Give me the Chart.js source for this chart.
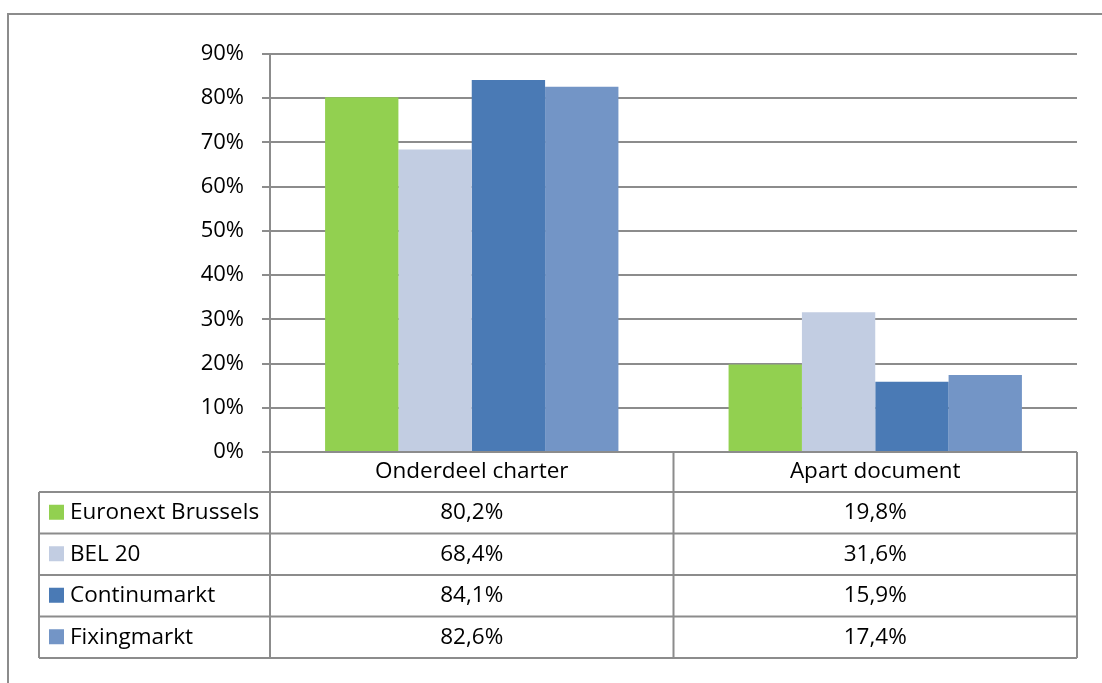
<!DOCTYPE html>
<html>
<head>
<meta charset="utf-8">
<script src="https://cdn.jsdelivr.net/npm/chart.js@4"></script>
<style>
  html, body { margin: 0; padding: 0; background: #fff; }
  #wrap { width: 1102px; height: 683px; position: relative; }
</style>
</head>
<body>
<div id="wrap"><canvas id="myChart" width="1102" height="683"></canvas></div>
<script>
const categories = ['Onderdeel charter', 'Apart document'];
const seriesNames = ['Euronext Brussels', 'BEL 20', 'Continumarkt', 'Fixingmarkt'];
const euronext = [80.2, 19.8];
const bel20 = [68.4, 31.6];
const continu = [84.1, 15.9];
const fixing = [82.6, 17.4];
const seriesColors = ['#92D050', '#C2CDE2', '#4A7AB5', '#7395C6'];
const yTicks = [0, 10, 20, 30, 40, 50, 60, 70, 80, 90];

const FONT = '"Open Sans", sans-serif';
const GREY = '#8c8c8c';

const fmt = v => v.toFixed(1).replace('.', ',') + '%';

// draws the frame and the data table under the plot
const tablePlugin = {
    id: 'dataTable',
    afterDraw(chart) {
        const c = chart.ctx;
        const area = chart.chartArea;
        const x = chart.scales.x;
        const rowH = 41.5;
        const left = 39;
        const mid = (x.getPixelForValue(0) + x.getPixelForValue(1)) / 2;
        const top = area.bottom;
        const headBottom = top + 40;
        const bottom = headBottom + rowH * 4;

        c.save();
        c.strokeStyle = GREY;
        c.lineWidth = 2;
        // outer frame
        c.beginPath();
        c.moveTo(8, 683);
        c.lineTo(8, 14);
        c.lineTo(1102, 14);
        c.stroke();

        c.beginPath();
        // header row
        c.moveTo(area.left, top);
        c.lineTo(area.right, top);
        c.moveTo(area.left, top);
        c.lineTo(area.left, bottom);
        c.moveTo(mid, top);
        c.lineTo(mid, bottom);
        c.moveTo(area.right, top);
        c.lineTo(area.right, bottom);
        c.moveTo(left, headBottom);
        c.lineTo(left, bottom);
        for (let i = 0; i <= 4; i++) {
            const yy = headBottom + rowH * i;
            c.moveTo(left, yy);
            c.lineTo(area.right, yy);
        }
        c.stroke();

        c.fillStyle = '#000';
        c.font = '22.5px ' + FONT;
        c.textBaseline = 'middle';
        c.textAlign = 'center';
        categories.forEach((cat, i) => {
            c.fillText(cat, i === 0 ? (area.left + mid) / 2 : (mid + area.right) / 2, top + 20);
        });

        chart.data.datasets.forEach((ds, r) => {
            const cy = headBottom + rowH * r + rowH / 2;
            c.fillStyle = ds.backgroundColor;
            c.fillRect(49, cy - 8, 15, 15);
            c.fillStyle = '#000';
            c.textAlign = 'left';
            c.fillText(ds.label, 70, cy);
            c.textAlign = 'center';
            c.fillText(fmt(ds.data[0]), (area.left + mid) / 2, cy);
            c.fillText(fmt(ds.data[1]), (mid + area.right) / 2, cy);
        });
        c.restore();
    }
};

const ctx = document.getElementById('myChart').getContext('2d');

const myChart = new Chart(ctx, {
    type: 'bar',
    data: {
        labels: categories,
        datasets: [
            { label: seriesNames[0], data: euronext, backgroundColor: seriesColors[0] },
            { label: seriesNames[1], data: bel20, backgroundColor: seriesColors[1] },
            { label: seriesNames[2], data: continu, backgroundColor: seriesColors[2] },
            { label: seriesNames[3], data: fixing, backgroundColor: seriesColors[3] },
        ]
    },
    options: {
        responsive: false,
        animation: false,
        layout: {
            padding: { left: 0, top: 54, right: 25, bottom: 231 }
        },
        datasets: {
            bar: { categoryPercentage: 0.727, barPercentage: 1 }
        },
        plugins: {
            legend: { display: false },
            tooltip: { enabled: false }
        },
        scales: {
            x: {
                display: false
            },
            y: {
                min: 0,
                max: 90,
                afterFit: s => { s.width = 270; },
                afterBuildTicks: s => { s.ticks = yTicks.map(v => ({ value: v })); },
                border: { color: GREY, width: 2 },
                grid: { color: GREY, lineWidth: 2, tickLength: 8 },
                ticks: {
                    padding: 18,
                    color: '#000',
                    font: { family: FONT, size: 22 },
                    callback: v => v + '%'
                }
            }
        }
    },
    plugins: [tablePlugin]
});
</script>
</body>
</html>
